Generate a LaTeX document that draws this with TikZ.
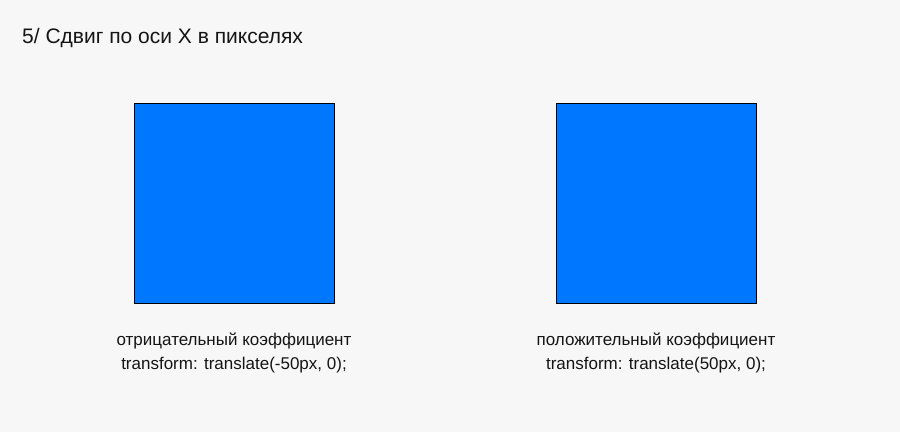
\documentclass[tikz,border=0pt]{standalone}
\usepackage{fontspec}
\setmainfont{Liberation Sans}
\usepackage{tikz}
\usetikzlibrary{positioning}
\usepackage{xcolor}
\definecolor{pagegray}{HTML}{F7F7F7}
\definecolor{boxblue}{HTML}{0077FF}
\definecolor{inkgray}{HTML}{151515}

\begin{document}
\begin{tikzpicture}[
    x=1pt, y=-1pt,
    every node/.style={font=\fontsize{17}{24}\selectfont, text=inkgray},
    movebox/.style={draw=black, line width=0.9pt, fill=boxblue, minimum width=200pt, minimum height=200pt, inner sep=0pt},
    caption/.style={align=center, inner sep=0pt}
]
    % Page background
    \fill[pagegray] (0, 0) rectangle (900, 432);
    \useasboundingbox (0, 0) rectangle (900, 432);

    % Title
    \node[anchor=base west, inner sep=0pt, font=\fontsize{21}{25}\selectfont] (title) at (22, 43) {5/ Сдвиг по оси X в пикселях};

    % Negative shift
    \node[movebox] (negbox) at (234, 203) {};
    \node[caption, below=29pt of negbox] (negtext) {отрицательный коэффициент\\transform: translate(-50px, 0);};

    % Positive shift
    \node[movebox] (posbox) at (656, 203) {};
    \node[caption, below=29pt of posbox] (postext) {положительный коэффициент\\transform: translate(50px, 0);};

\end{tikzpicture}
\end{document}
